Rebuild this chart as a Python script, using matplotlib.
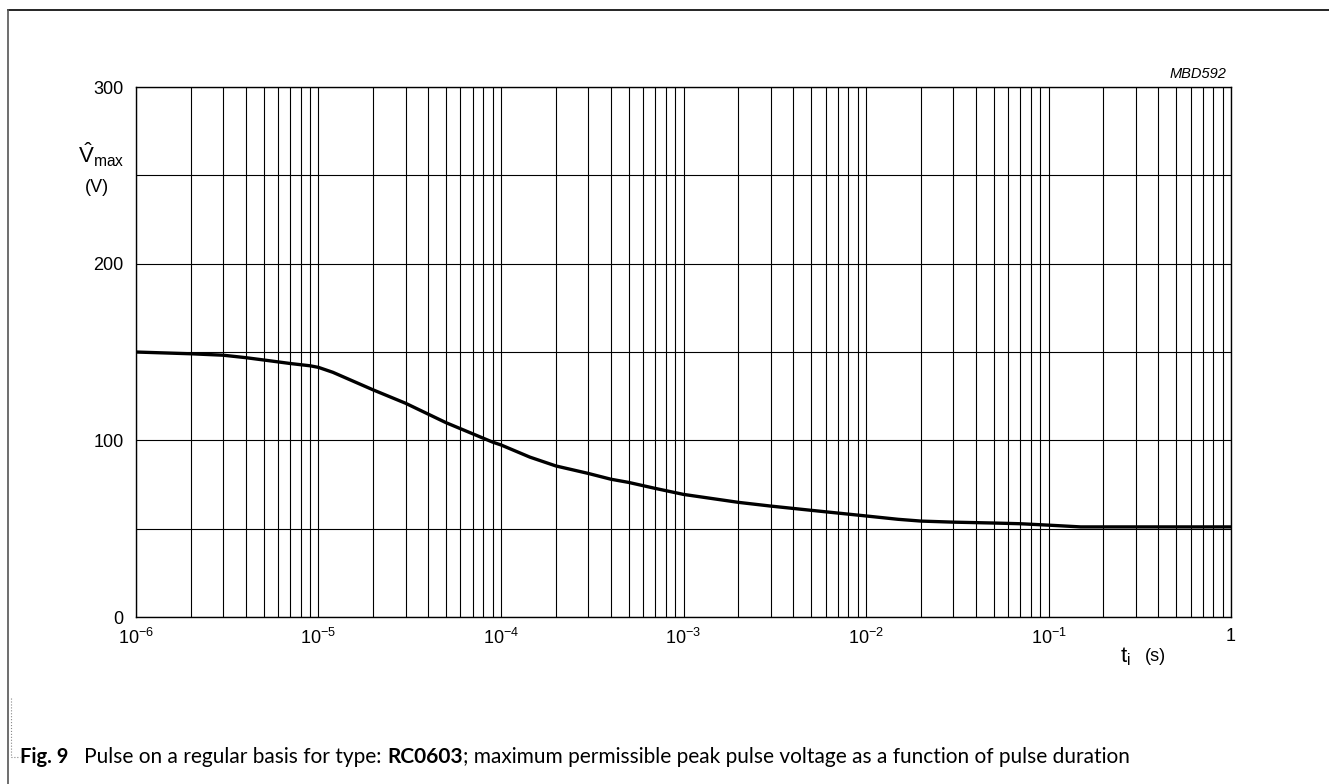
import matplotlib.pyplot as plt
from matplotlib.lines import Line2D

# curve
t_i = [1e-6, 2e-6, 3e-6, 4e-6, 5e-6, 7e-6, 9e-6, 1e-5, 1.2e-5, 2e-5, 3e-5, 5e-5,
       9e-5, 1e-4, 1.44e-4, 2e-4, 3e-4, 4e-4, 5e-4, 7e-4, 1e-3, 2e-3, 3e-3, 5e-3,
       1e-2, 1.5e-2, 2e-2, 3e-2, 5e-2, 7e-2, 1e-1, 1.5e-1, 1.0]
v_max = [150, 149, 148.2, 146.8, 145.5, 143.5, 142.2, 141.3, 138.5, 128.5, 121, 110,
         99, 97.4, 90.5, 85.5, 81.3, 78, 76.2, 72.8, 69.4, 64.9, 62.8, 60.4,
         57.2, 55.3, 54.3, 53.7, 53.2, 52.8, 52, 51, 51]

x_ticks = [1e-6, 1e-5, 1e-4, 1e-3, 1e-2, 1e-1, 1.0]
x_labels = ['$10^{-6}$', '$10^{-5}$', '$10^{-4}$', '$10^{-3}$', '$10^{-2}$', '$10^{-1}$', '1']
y_ticks = [0, 100, 200, 300]
y_minor = [50, 150, 250]

plt.rcParams['font.family'] = ['Liberation Sans', 'DejaVu Sans']
plt.rcParams['mathtext.fontset'] = 'custom'
plt.rcParams['mathtext.rm'] = 'Liberation Sans'
plt.rcParams['mathtext.it'] = 'Liberation Sans:italic'

fig = plt.figure(figsize=(13.29, 7.84), dpi=100)
ax = fig.add_axes([0.1023, 0.2130, 0.8240, 0.6760])

ax.plot(t_i, v_max, color='black', linewidth=2.4, zorder=3,
        solid_joinstyle='round')
ax.set_xscale('log')
ax.set_xlim(1e-6, 1)
ax.set_ylim(0, 300)

ax.set_xticks(x_ticks)
ax.set_xticklabels(x_labels)
ax.set_yticks(y_ticks)
ax.set_yticks(y_minor, minor=True)
ax.tick_params(axis='both', which='both', length=0, labelsize=13)
ax.tick_params(axis='x', pad=8)
ax.tick_params(axis='y', pad=9)
ax.grid(True, which='both', color='black', linewidth=0.8)
for s in ax.spines.values():
    s.set_linewidth(1.0)

# axis labels like the original sheet
ax.text(-0.053, 0.872, r'$\hat{\mathrm{V}}_{\mathrm{max}}$', transform=ax.transAxes,
        fontsize=16, ha='left', va='center')
ax.text(-0.036, 0.811, '(V)', transform=ax.transAxes, fontsize=13, ha='center', va='center')
ax.text(0.899, -0.075, r'$\mathrm{t}_{\mathrm{i}}$', transform=ax.transAxes,
        fontsize=16, ha='left', va='center')
ax.text(0.921, -0.075, '(s)', transform=ax.transAxes,
        fontsize=13, ha='left', va='center')
ax.text(0.9954, 1.0245, 'MBD592', transform=ax.transAxes, fontsize=10.5,
        style='italic', ha='right', va='center')

# frame lines and caption bracket
fig.add_artist(Line2D([8/1329, 1], [1 - 10/784, 1 - 10/784], color='black', linewidth=1.2))
fig.add_artist(Line2D([8/1329, 8/1329], [1 - 10/784, 0], color='#555555', linewidth=1.2))
fig.add_artist(Line2D([11/1329, 11/1329, 20/1329], [1 - 698/784, 1 - 757/784, 1 - 757/784],
                      color='#888888', linewidth=0.8, linestyle=':'))

cap = fig.text(20/1329, 1 - 757/784, 'Fig. 9', fontsize=14.5, fontweight='bold',
               family='Lato', va='center', ha='left')
a = plt.annotate('   Pulse on a regular basis for type: ', xy=(1, 0.5), xycoords=cap,
                 va='center', ha='left', fontsize=15, family='Lato')
b = plt.annotate('RC0603', xy=(1, 0.5), xycoords=a, va='center', ha='left',
                 fontsize=15, family='Lato', fontweight='bold')
plt.annotate('; maximum permissible peak pulse voltage as a function of pulse duration',
             xy=(1, 0.5), xycoords=b, va='center', ha='left', fontsize=15, family='Lato')

fig.savefig('out.png', dpi=100)
